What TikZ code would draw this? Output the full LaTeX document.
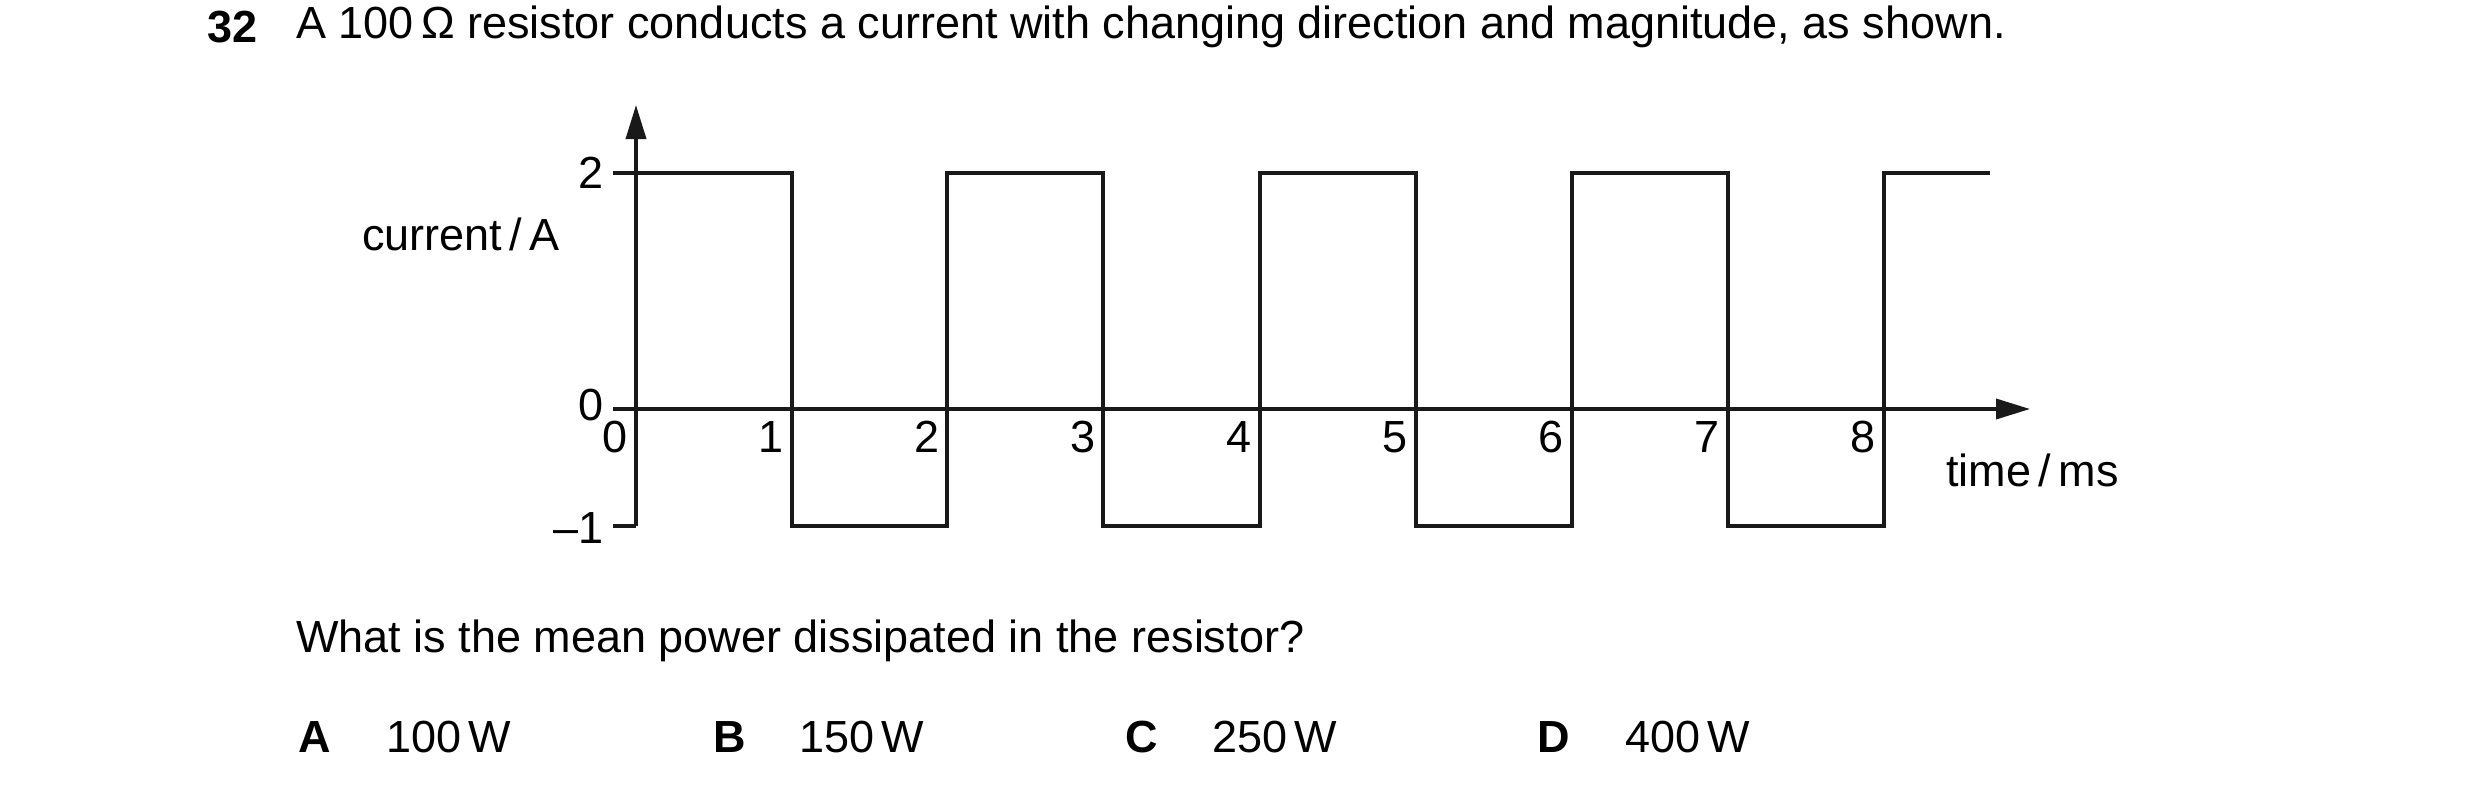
\documentclass[tikz,border=0pt]{standalone}
\usepackage{fontspec}
\setmainfont{Liberation Sans}
\usetikzlibrary{arrows.meta}
\begin{document}
\begin{tikzpicture}[x=1pt,y=-1pt,
  txt/.style={inner sep=0pt,font=\fontsize{45}{54}\selectfont},
  bf/.style={txt,font=\fontsize{45}{54}\selectfont\bfseries},
  ln/.style={line width=3.6pt,color=black!90},
  ar/.style={ln,-{Triangle[length=34pt,width=20pt]}}]
\useasboundingbox[fill=white] (0,0) rectangle (2480,792);
\node[bf,anchor=west] (num) at (207,27) {32};
\node[txt,anchor=west] (title) at (296,27) {A 100\,Ω resistor conducts a current with changing direction and magnitude, as shown.};
% axes
\coordinate (ybot) at (636,526);
\coordinate (ytop) at (636,105);
\coordinate (xl) at (613,409);
\coordinate (xr) at (2030,409);
\draw[ar] (ybot) -- (ytop);
\draw[ar] (xl) -- (xr);
\coordinate (t2a) at (613,173); \coordinate (t2b) at (636,173);
\coordinate (tma) at (613,526);
\draw[ln] (t2a) -- (t2b);
\draw[ln] (tma) -- (ybot);
% square wave
\draw[ln] (636,173) -- (792,173) -- (792,526) -- (947,526) -- (947,173) -- (1103,173) -- (1103,526) -- (1260,526) -- (1260,173) -- (1416,173) -- (1416,526) -- (1572,526) -- (1572,173) -- (1728,173) -- (1728,526) -- (1884,526) -- (1884,173) -- (1990,173);
% y labels
\node[txt,anchor=east] (l2) at (604,173) {2};
\node[txt,anchor=east] (l0) at (604,405) {0};
\node[txt,anchor=east] (lm) at (604,528) {–1};
\node[txt,anchor=west] (yl) at (362,234) {current\,/\,A};
\node[txt,anchor=west] (xlab) at (1946,470) {time\,/\,ms};
% x labels
\foreach \i in {0,...,8}{
  \node[txt,anchor=east] (x\i) at ({636+156*\i-8},437) {\i};
}
\node[txt,anchor=west] (q) at (296,641) {What is the mean power dissipated in the resistor?};
\node[bf,anchor=west] (A) at (298,737) {A};
\node[txt,anchor=west] (Av) at (386,737) {100\,W};
\node[bf,anchor=west] (B) at (713,737) {B};
\node[txt,anchor=west] (Bv) at (799,737) {150\,W};
\node[bf,anchor=west] (C) at (1125,737) {C};
\node[txt,anchor=west] (Cv) at (1212,737) {250\,W};
\node[bf,anchor=west] (D) at (1537,737) {D};
\node[txt,anchor=west] (Dv) at (1625,737) {400\,W};
\end{tikzpicture}
\end{document}
